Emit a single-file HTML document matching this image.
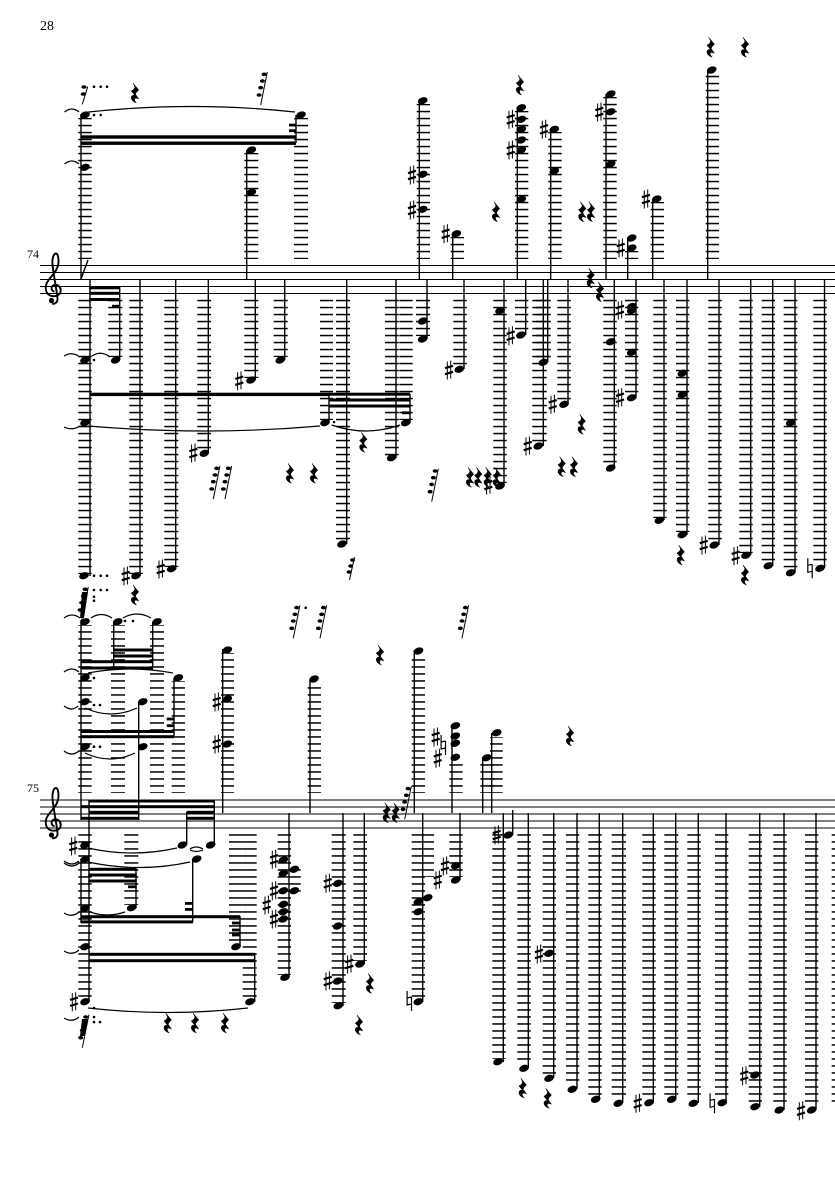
<!DOCTYPE html>
<html><head><meta charset="utf-8"><style>
html,body{margin:0;padding:0;background:#fff}
svg{display:block}
text{font-family:"Liberation Serif",serif;fill:#000}
</style></head><body>
<svg width="835" height="1181" viewBox="0 0 835 1181" xmlns="http://www.w3.org/2000/svg">
<defs>
<pattern id="a" patternUnits="userSpaceOnUse" x="0" y="264.8" width="10" height="7"><rect width="10" height="1.5" fill="#000"/></pattern>
<pattern id="b" patternUnits="userSpaceOnUse" x="0" y="799.2" width="10" height="7"><rect width="10" height="1.5" fill="#000"/></pattern>
<ellipse id="n" rx="5" ry="3.4" transform="rotate(-20)"/>
<g id="s" fill="none" stroke="#000"><path d="M-1.7-8.5V9.5M1.7-9.5V8.5" stroke-width="1"/><path d="M-4-1.8L4-4.2M-4 4.2L4 1.8" stroke-width="2.2"/></g>
<path id="h" d="M-2.2-10V4L2.2 3M-2.2-3L2.2-4M2.2-4V10" fill="none" stroke="#000" stroke-width="1.2"/>
<path id="r" d="M-2-10L3.8-3Q.6-.5.6 1.5L3.8 6Q-.5 4-.5 6.5Q-.5 8 1.5 10Q-4.5 8-3.6 3.5Q-2.5 1.5 0 2.5L-3.8-2Q0-4-.2-6.5Z" stroke="#000" stroke-width=".5"/>
<g id="g"><path d="M0 0L6.6-33" stroke="#000" stroke-width="1"/><ellipse cx="3.4" cy="-30.7" rx="2.5" ry="1.8"/><ellipse cx="1.7" cy="-24" rx="2.5" ry="1.8"/><ellipse cy="-17.3" rx="2.5" ry="1.8"/><ellipse cx="-1.6" cy="-10" rx="2.5" ry="1.8"/></g>
<g id="t"><path d="M0 0L5-23" stroke="#000" stroke-width="1"/><ellipse cx="3" cy="-20" rx="2.5" ry="1.8"/><ellipse cx="1.2" cy="-14" rx="2.5" ry="1.8"/><ellipse cx="-.5" cy="-8" rx="2.5" ry="1.8"/></g>
<g id="c"><path d="M54.5 291.5C51 291.5 50.5 286 54 285C58.5 284 61.5 288 60.5 292C59.5 296 54 297 50 295.5C45 293 44.5 286 48 281C51 276 58 271 58.5 262C58.7 257 57.5 253.5 56 253.5C53.5 253.5 52 259 52.5 264C53 272 57 292 57.5 298C58 302 55 304.5 52 303.5" fill="none" stroke="#000" stroke-width="1.9"/><circle cx="51.5" cy="300.5" r="2.6"/></g>
</defs>
<rect width="835" height="1181" fill="#fff"/>
<text x="40" y="30" font-size="14">28</text>
<text x="27" y="258" font-size="12">74</text>
<text x="27" y="792" font-size="12">75</text>
<path d="M40 265.5H835M40 272.5H835M40 279.5H835M40 286.5H835M40 293.5H835" stroke="#000" stroke-width="1"/>
<path d="M40 800H835M40 807H835M40 814H835M40 821H835M40 828H835" stroke="#000" stroke-width="1.1"/>
<use href="#c"/><use href="#c" y="534.5"/>

<g fill="url(#a)">
<rect x="78.3" y="118" width="13.4" height="141"/><rect x="294" y="118" width="14" height="141"/><rect x="244.3" y="153" width="14" height="106"/><rect x="416.7" y="104" width="13.3" height="155"/><rect x="450.7" y="237" width="13.3" height="22"/><rect x="515" y="111" width="13.3" height="148"/><rect x="548.3" y="132" width="13.4" height="127"/><rect x="603.3" y="97" width="13.4" height="162"/><rect x="625" y="251" width="13.3" height="8"/><rect x="650.7" y="202" width="13.3" height="57"/><rect x="705.7" y="73" width="13.3" height="186"/>
<rect x="78.3" y="299" width="13.4" height="275"/><rect x="108.3" y="299" width="14" height="58"/><rect x="129.3" y="299" width="13.7" height="275"/><rect x="164.3" y="299" width="14" height="268"/><rect x="197.3" y="299" width="13.7" height="153"/><rect x="244.3" y="299" width="14" height="79"/><rect x="273.7" y="299" width="14" height="58"/><rect x="320" y="299" width="13" height="121"/><rect x="336" y="299" width="14" height="243"/><rect x="385" y="299" width="13.7" height="157"/><rect x="399.3" y="299" width="13.4" height="121"/><rect x="416" y="299" width="14" height="37"/><rect x="453.3" y="299" width="13.4" height="68"/><rect x="493.3" y="299" width="13.4" height="184"/><rect x="515" y="299" width="13.3" height="33"/><rect x="532.3" y="299" width="14.4" height="145"/><rect x="536" y="299" width="14.7" height="61"/><rect x="557.3" y="299" width="13.4" height="103"/><rect x="603.3" y="299" width="13.4" height="167"/><rect x="625" y="299" width="13.3" height="96"/><rect x="653.3" y="299" width="13.4" height="219"/><rect x="676" y="299" width="13.3" height="233"/><rect x="708.3" y="299" width="13.4" height="244"/><rect x="739.3" y="299" width="13.4" height="254"/><rect x="761.7" y="299" width="13.3" height="264"/><rect x="783.7" y="299" width="13.6" height="271"/><rect x="813.3" y="299" width="13.4" height="267"/>
</g>
<g fill="url(#b)">
<rect x="78.3" y="625" width="13.4" height="168"/><rect x="111" y="625" width="14" height="168"/><rect x="150" y="625" width="14" height="168"/><rect x="171.7" y="681" width="13.3" height="112"/><rect x="221" y="653" width="13" height="140"/><rect x="307.7" y="683" width="13.3" height="110"/><rect x="411.7" y="655" width="13.3" height="138"/><rect x="449.3" y="762" width="13.4" height="31"/><rect x="480.3" y="762" width="13.7" height="31"/><rect x="490" y="737" width="12.7" height="56"/>
<rect x="78.3" y="834" width="13.4" height="163"/><rect x="124.3" y="834" width="14" height="71"/><rect x="229" y="834" width="13.7" height="110"/><rect x="242.7" y="834" width="14" height="165"/><rect x="277.7" y="834" width="13.3" height="141"/><rect x="291" y="868" width="9.7" height="24"/><rect x="331.7" y="834" width="14" height="169"/><rect x="353.3" y="834" width="13.7" height="127"/><rect x="411.7" y="834" width="13.3" height="165"/><rect x="425" y="834" width="9" height="43"/><rect x="449.3" y="834" width="13.4" height="43"/><rect x="492.3" y="834" width="13.4" height="225"/><rect x="517.3" y="834" width="13.4" height="231"/><rect x="542.7" y="834" width="13.3" height="241"/><rect x="566" y="834" width="13.3" height="252"/><rect x="588.3" y="834" width="13.4" height="262"/><rect x="611.7" y="834" width="14.3" height="266"/><rect x="642.3" y="834" width="13.4" height="266"/><rect x="664.3" y="834" width="14" height="262"/><rect x="687.3" y="834" width="13.4" height="266"/><rect x="715" y="834" width="13.3" height="266"/><rect x="748.7" y="834" width="13.3" height="269"/><rect x="773.3" y="834" width="13.4" height="273"/><rect x="805" y="834" width="13.3" height="273"/><rect x="831.7" y="834" width="4" height="269"/>
</g>

<path fill="none" stroke="#000" stroke-width="1.4" d="M81 114V279.5M81 279L88 260M296 115V143M246.7 150V279.5M419.3 100V279.5M452.7 234V279.5M517.3 107V279.5M550.7 129V279.5M606 94V279.5M627.7 238V279.5M652.7 199V279.5M707.7 70V279.5
M90 279.5V576M119.7 287V360M140 279.5V576M175.7 279.5V569M208.3 279.5V453M255.3 279.5V380M284.7 279.5V360M329 394V423M346.7 279.5V544M396 279.5V458M410 394V423M427 279.5V339M464 279.5V369M504 279.5V486M525.7 279.5V335M543.3 279.5V446M547.7 279.5V362M568 279.5V404M614.3 279.5V468M636 279.5V398M664 279.5V520M687 279.5V535M719 279.5V545M750.7 279.5V555M772.7 279.5V566M795 279.5V573M824.5 279.5V568
M81 620V820M113.7 622V668M152.7 622V668M174 678V736M138.7 702V820M222.7 649V813M310 680V813M414.3 650V813M452 725V813M482.7 757V813M491.7 733V813
M89 800V1002M81 859V923M186.7 812V845M214.3 800V845M192.7 859V922M136 869V908M240 916V947M254.7 953V1002M289 813V977M343 813V1006M364.3 813V964M422.7 813V1002M460 813V880M503.3 813V1062M512.7 810V835M528.3 813V1068M553.7 813V1078M577 813V1089M599.3 813V1099M622.7 813V1103M653.3 813V1103M675.7 813V1099M698.3 813V1103M726 813V1103M759.7 813V1107M784 813V1110M816 813V1110"/>

<g>
<rect x="81" y="135.3" width="215" height="3.4"/><rect x="81" y="141.5" width="215" height="3.4"/><rect x="289" y="123.7" width="7" height="2.8"/><rect x="289" y="129.3" width="7" height="2.8"/>
<rect x="89" y="286.3" width="31" height="3"/><rect x="89" y="291.8" width="31" height="3"/><rect x="89" y="298" width="31" height="3"/><rect x="112" y="304.8" width="8" height="2.8"/>
<rect x="90" y="392.7" width="240" height="3.4"/><rect x="329" y="392.7" width="81" height="3"/><rect x="329" y="398.5" width="81" height="3"/><rect x="329" y="404.5" width="81" height="3"/><rect x="402" y="411.4" width="8" height="2.8"/>
<rect x="81" y="660.2" width="33" height="3"/><rect x="81" y="666.5" width="72" height="3"/><rect x="113.7" y="648.5" width="39" height="3"/><rect x="113.7" y="654.5" width="39" height="3"/><rect x="113.7" y="660.2" width="39" height="3"/>
<rect x="81" y="730" width="93" height="3"/><rect x="81" y="735.2" width="93" height="3"/><rect x="166.7" y="717.6" width="7.3" height="2.8"/><rect x="166.7" y="724.3" width="7.3" height="2.8"/>
<rect x="89" y="799.5" width="125.3" height="3"/><rect x="81" y="805.2" width="133.3" height="3"/><rect x="89" y="810.8" width="49.7" height="3"/><rect x="186.7" y="810.8" width="27.6" height="3"/><rect x="81" y="816.8" width="57.7" height="3"/><rect x="186.7" y="816.8" width="27.6" height="3"/>
<rect x="81" y="915.2" width="159" height="3"/><rect x="81" y="920.4" width="112" height="3"/><rect x="185" y="902" width="7.7" height="2.8"/><rect x="185" y="908" width="7.7" height="2.8"/>
<rect x="88.3" y="867.8" width="48.4" height="3"/><rect x="88.3" y="873.5" width="48.4" height="3"/><rect x="88.3" y="879.5" width="48.4" height="3"/><rect x="128" y="885.4" width="8.7" height="2.8"/>
<rect x="232" y="921.6" width="8" height="2.8"/><rect x="232" y="928.6" width="8" height="2.8"/><rect x="232" y="933.6" width="8" height="2.8"/>
<rect x="89" y="952.8" width="165.7" height="3"/><rect x="89" y="959.2" width="165.7" height="3"/>
</g>

<g>
<use href="#n" x="85" y="115"/><use href="#n" x="85" y="167.3"/><use href="#n" x="301" y="115"/><use href="#n" x="251.3" y="150"/><use href="#n" x="251.3" y="192.3"/>
<use href="#n" x="422.7" y="100.7"/><use href="#n" x="422.7" y="174.3"/><use href="#n" x="422.7" y="209.3"/><use href="#n" x="456.3" y="233.7"/>
<use href="#n" x="521.3" y="107.7"/><use href="#n" x="521.3" y="119.3"/><use href="#n" x="521.3" y="129.3"/><use href="#n" x="521.3" y="140"/><use href="#n" x="521.3" y="150"/><use href="#n" x="521.3" y="199.3"/>
<use href="#n" x="554.3" y="129.3"/><use href="#n" x="554.3" y="171"/><use href="#n" x="610.7" y="94"/><use href="#n" x="610.7" y="111.7"/><use href="#n" x="610.7" y="164"/>
<use href="#n" x="631.7" y="238"/><use href="#n" x="631.7" y="248"/><use href="#n" x="656.7" y="199"/><use href="#n" x="711.7" y="70"/>
<use href="#n" x="85" y="360"/><use href="#n" x="85" y="422.7"/><use href="#n" x="84" y="575.7"/><use href="#n" x="115.7" y="360"/><use href="#n" x="136" y="575.7"/><use href="#n" x="171.7" y="568.7"/><use href="#n" x="204.3" y="453.3"/><use href="#n" x="251" y="380"/><use href="#n" x="280.3" y="360"/><use href="#n" x="325" y="422.7"/><use href="#n" x="342" y="544"/><use href="#n" x="391.7" y="457.7"/><use href="#n" x="405.7" y="422.7"/>
<use href="#n" x="422.7" y="321"/><use href="#n" x="422.7" y="339"/><use href="#n" x="459.3" y="369.3"/><use href="#n" x="500" y="310.7"/><use href="#n" x="500" y="486"/><use href="#n" x="521" y="335"/><use href="#n" x="538.3" y="446"/><use href="#n" x="543.3" y="362.3"/><use href="#n" x="564" y="404.3"/><use href="#n" x="610.7" y="341.7"/><use href="#n" x="610.7" y="468"/>
<use href="#n" x="631.7" y="306.5"/><use href="#n" x="631.7" y="310.5"/><use href="#n" x="631.7" y="352.3"/><use href="#n" x="631.7" y="397.7"/><use href="#n" x="659.3" y="520.3"/><use href="#n" x="682.3" y="373.3"/><use href="#n" x="682.3" y="394.7"/><use href="#n" x="682.3" y="534.7"/><use href="#n" x="714.3" y="545"/><use href="#n" x="746" y="555.3"/><use href="#n" x="768.3" y="565.7"/><use href="#n" x="790.7" y="422.7"/><use href="#n" x="790.7" y="572.7"/><use href="#n" x="820" y="568.3"/>

<use href="#n" x="85" y="621.7"/><use href="#n" x="85" y="677.7"/><use href="#n" x="85" y="701.7"/><use href="#n" x="85" y="746.7"/><use href="#n" x="117.7" y="621.7"/><use href="#n" x="157" y="621.7"/><use href="#n" x="178.3" y="677.7"/><use href="#n" x="142.7" y="701.7"/><use href="#n" x="142.7" y="746.7"/><use href="#n" x="227.3" y="650"/><use href="#n" x="227.3" y="699"/><use href="#n" x="227.3" y="744"/><use href="#n" x="314" y="679"/><use href="#n" x="418.5" y="651"/><use href="#n" x="455.3" y="725.7"/><use href="#n" x="455.3" y="736"/><use href="#n" x="455.3" y="743.3"/><use href="#n" x="455.3" y="757.3"/><use href="#n" x="486.7" y="757.7"/><use href="#n" x="496.7" y="732.7"/>
<use href="#n" x="85" y="845"/><use href="#n" x="85" y="859.3"/><use href="#n" x="85" y="908.3"/><use href="#n" x="85" y="946.7"/><use href="#n" x="85" y="1001.7"/><use href="#n" x="182.3" y="845"/><use href="#n" x="210.7" y="845"/><use href="#n" x="196.7" y="859"/><use href="#n" x="131.7" y="907.7"/><use href="#n" x="236" y="946.7"/><use href="#n" x="250" y="1001.7"/>
<use href="#n" x="283.3" y="860"/><use href="#n" x="283.3" y="873.3"/><use href="#n" x="283.3" y="890.7"/><use href="#n" x="283.3" y="904.3"/><use href="#n" x="283.3" y="911.7"/><use href="#n" x="283.3" y="919"/><use href="#n" x="285" y="977.3"/><use href="#n" x="294.3" y="869.3"/><use href="#n" x="294.3" y="890.7"/>
<use href="#n" x="337.7" y="883.3"/><use href="#n" x="337.7" y="926"/><use href="#n" x="337.7" y="981"/><use href="#n" x="338.3" y="1005.7"/><use href="#n" x="360" y="964"/><use href="#n" x="418.3" y="901.7"/><use href="#n" x="418.3" y="911.7"/><use href="#n" x="427.7" y="897.7"/><use href="#n" x="418.3" y="1001.7"/><use href="#n" x="455.7" y="865.7"/><use href="#n" x="455.7" y="880"/>
<use href="#n" x="498" y="1061.7"/><use href="#n" x="508.3" y="835"/><use href="#n" x="524" y="1068.3"/><use href="#n" x="549" y="953.3"/><use href="#n" x="549" y="1078.3"/><use href="#n" x="572.3" y="1089.3"/><use href="#n" x="595.7" y="1099.3"/><use href="#n" x="618.3" y="1103.3"/><use href="#n" x="649" y="1102.7"/><use href="#n" x="671.7" y="1099.3"/><use href="#n" x="693.3" y="1103.3"/><use href="#n" x="722.3" y="1102.7"/><use href="#n" x="755" y="1075"/><use href="#n" x="755" y="1106.7"/><use href="#n" x="779.3" y="1110"/><use href="#n" x="811.7" y="1110"/>
</g>

<g>
<use href="#s" x="412" y="175"/><use href="#s" x="412" y="210"/><use href="#s" x="445.7" y="233.7"/><use href="#s" x="510.7" y="119.3"/><use href="#s" x="510.7" y="150"/><use href="#s" x="544" y="129.3"/><use href="#s" x="599.3" y="112"/><use href="#s" x="620.7" y="248"/><use href="#s" x="646" y="199"/>
<use href="#s" x="125.7" y="576"/><use href="#s" x="160.7" y="569"/><use href="#s" x="193.3" y="453"/><use href="#s" x="239.3" y="380.7"/><use href="#s" x="449" y="370"/><use href="#s" x="488.3" y="485"/><use href="#s" x="510.7" y="335.7"/><use href="#s" x="527.7" y="446"/><use href="#s" x="552.7" y="404.3"/><use href="#s" x="620" y="310"/><use href="#s" x="620" y="397.7"/><use href="#s" x="703.7" y="545"/><use href="#s" x="735.7" y="555.7"/>
<use href="#s" x="216.7" y="702"/><use href="#s" x="216.7" y="744"/><use href="#s" x="435.7" y="737"/><use href="#s" x="437.7" y="758.3"/><use href="#s" x="73.3" y="846"/><use href="#s" x="74" y="1001.7"/><use href="#s" x="274" y="859.3"/><use href="#s" x="274" y="890.7"/><use href="#s" x="266.7" y="905"/><use href="#s" x="274" y="919"/><use href="#s" x="327.7" y="883.3"/><use href="#s" x="327.7" y="981"/><use href="#s" x="349.3" y="964"/><use href="#s" x="445" y="866"/><use href="#s" x="437.7" y="880"/><use href="#s" x="496.7" y="835"/><use href="#s" x="539" y="954"/><use href="#s" x="637.7" y="1103.3"/><use href="#s" x="744.3" y="1075.7"/><use href="#s" x="801" y="1110.7"/>
<use href="#h" x="810" y="568.3"/><use href="#h" x="443.3" y="745"/><use href="#h" x="409.3" y="1001"/><use href="#h" x="712.3" y="1103.3"/>
</g>

<g>
<use href="#r" x="135" y="93"/><use href="#r" x="520" y="85"/><use href="#r" x="496" y="211.7"/><use href="#r" x="582.3" y="211.7"/><use href="#r" x="591" y="211.7"/><use href="#r" x="590.7" y="278"/><use href="#r" x="600" y="291.7"/><use href="#r" x="710.7" y="47.3"/><use href="#r" x="745" y="47.3"/>
<use href="#r" x="290" y="473.3"/><use href="#r" x="314" y="473.3"/><use href="#r" x="135" y="595"/><use href="#r" x="363.3" y="442.3"/><use href="#r" x="581.7" y="424.3"/><use href="#r" x="561.7" y="466.7"/><use href="#r" x="574" y="466.7"/><use href="#r" x="470" y="477.3"/><use href="#r" x="478.3" y="477.3"/><use href="#r" x="487.7" y="477.3"/><use href="#r" x="496.7" y="477.3"/><use href="#r" x="680.7" y="555"/><use href="#r" x="745" y="575"/>
<use href="#r" x="380" y="655"/><use href="#r" x="570" y="736"/><use href="#r" x="386.7" y="812.7"/><use href="#r" x="395.7" y="812.7"/><use href="#r" x="370" y="983.3"/><use href="#r" x="359" y="1025"/><use href="#r" x="167.7" y="1023"/><use href="#r" x="195" y="1023"/><use href="#r" x="225" y="1023"/><use href="#r" x="522.7" y="1088"/><use href="#r" x="547.7" y="1098.3"/>
</g>

<g>
<use href="#g" x="260.7" y="105"/><use href="#g" x="213.3" y="499"/><use href="#g" x="225" y="499"/><use href="#g" x="293.3" y="638.3"/><use href="#g" x="320" y="638.3"/><use href="#g" x="462" y="638.3"/><use href="#g" x="431.7" y="501.7"/><use href="#t" x="349.5" y="580"/>
<use href="#g" x="404.7" y="819.3"/><use href="#g" x="81.7" y="620"/><use href="#g" x="82.3" y="1047.7"/>
<path d="M82.3 104.3L87.7 86.7" stroke="#000" stroke-width="1"/><ellipse cx="84" cy="87" rx="2.6" ry="1.8"/><ellipse cx="83.3" cy="94" rx="2.6" ry="1.8"/>
<path d="M82 592L88 592L84 618L80 618Z"/><path d="M82 1019L88 1019L85 1036L80 1036Z"/>
<circle cx="94" cy="86.7" r="1.3"/><circle cx="100.7" cy="86.7" r="1.3"/><circle cx="107" cy="86.7" r="1.3"/><circle cx="94" cy="115" r="1.3"/><circle cx="100.7" cy="115" r="1.3"/><circle cx="94" cy="360" r="1.3"/><circle cx="94" cy="575.7" r="1.3"/><circle cx="100.7" cy="575.7" r="1.3"/><circle cx="107" cy="575.7" r="1.3"/><circle cx="94" cy="590" r="1.3"/><circle cx="100.7" cy="590" r="1.3"/><circle cx="107" cy="590" r="1.3"/><circle cx="94" cy="596.7" r="1.3"/><circle cx="94" cy="600.7" r="1.3"/><circle cx="125" cy="621" r="1.3"/><circle cx="133" cy="621" r="1.3"/><circle cx="305.7" cy="607.7" r="1.3"/><circle cx="334" cy="422" r="1.3"/><circle cx="94" cy="678" r="1.3"/><circle cx="94" cy="705" r="1.3"/><circle cx="100" cy="705" r="1.3"/><circle cx="94" cy="746.7" r="1.3"/><circle cx="100" cy="746.7" r="1.3"/><circle cx="94" cy="1008" r="1.3"/><circle cx="94" cy="1017" r="1.3"/><circle cx="94" cy="1022" r="1.3"/><circle cx="100" cy="1022" r="1.3"/>
</g>

<g fill="none" stroke="#000" stroke-width="1.2">
<path d="M64.5 112Q72 106 79 112M64.5 164Q72 158 79 164M64 356Q72 351 80 357M92 356Q101 350 110 357M64 427Q72 431 80 426M88.3 112Q192 101 295 112M88.3 426Q205 436 320 426M331.7 425Q366 437 400 425M64 618Q72 612 80 618M91 618Q101 611 112 618M123 618Q137 610 151 618"/>
<path d="M64 672Q72 666 79 672M64 706Q72 712 78 706M64 751Q72 757 79 751M88 673Q130 665 173 673M85 708Q111 720 137 708M85 753Q110 765 135 753M64 861Q72 867 79 861M64 863Q72 869 79 863M88 848Q132 858 177 848M190 849Q196 845 203 849M190 850Q196 853 203 850M88 862Q140 873 190 862M64 913Q72 918 79 912M90 912Q107 918 125 912M64 951Q72 956 79 950M64 1018Q72 1023 79 1017M88 1008Q168 1017 248 1008"/>
</g>
</svg>
</body></html>
